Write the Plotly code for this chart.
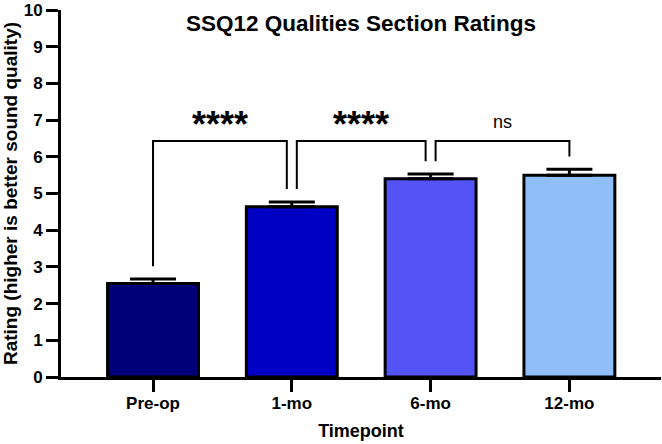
import plotly.graph_objects as go

categories = ["Pre-op", "1-mo", "6-mo", "12-mo"]
means = [2.55, 4.64, 5.40, 5.50]
sems = [0.12, 0.13, 0.13, 0.16]
colors = ["#000078", "#0000C4", "#5353F6", "#8FBEF8"]
y_ticks = list(range(0, 11))

# significance comparisons: (left idx, right idx, label)
comparisons = [(0, 1, "****"), (1, 2, "****"), (2, 3, "ns")]
bracket_y = 6.43
leg_gap = 0.35
leg_offset = 0.036

FONT = "Liberation Sans, Arial, sans-serif"

fig = go.Figure()
fig.add_trace(go.Bar(
    x=list(range(len(categories))), y=means,
    marker=dict(color=colors, line=dict(color="black", width=3)),
    width=0.655,
    error_y=dict(type="data", array=sems, arrayminus=[0]*len(sems), symmetric=False,
                 color="black", thickness=3, width=23),
))

annotations = []
for k, (i, j, lab) in enumerate(comparisons):
    xi = i + (leg_offset if k > 0 else 0)
    xj = j - (leg_offset if j < len(categories) - 1 else 0)
    yi = means[i] + sems[i] + leg_gap
    yj = means[j] + sems[j] + leg_gap
    fig.add_trace(go.Scatter(
        x=[xi, xi, xj, xj], y=[yi, bracket_y, bracket_y, yj],
        mode="lines", line=dict(color="black", width=2), hoverinfo="skip",
    ))
    is_star = "*" in lab
    annotations.append(dict(
        x=(xi + xj) / 2, y=bracket_y, xref="x", yref="y",
        text=f"<b>{lab}</b>" if is_star else lab,
        showarrow=False, yanchor="bottom",
        yshift=-6 if is_star else 7,
        font=dict(family=FONT, size=36 if is_star else 18, color="black"),
    ))

annotations.append(dict(
    x=(361 - 61) / 600, y=(377 - 21) / 370, xref="paper", yref="paper",
    text="<b>SSQ12 Qualities Section Ratings</b>", yanchor="middle",
    showarrow=False, font=dict(family=FONT, size=22.5, color="black"),
))

fig.update_layout(
    width=662, height=444,
    margin=dict(l=61, r=1, t=7, b=67),
    plot_bgcolor="white", paper_bgcolor="white",
    showlegend=False,
    font=dict(family=FONT, color="black"),
    annotations=annotations,
)

fig.update_xaxes(
    range=[-0.663, 3.66],
    tickmode="array", tickvals=list(range(len(categories))),
    ticktext=[f"<b>{c}</b>" for c in categories],
    showline=True, linecolor="black", linewidth=3,
    ticks="outside", ticklen=12, tickwidth=3, tickcolor="black",
    ticklabelstandoff=-3,
    tickfont=dict(family=FONT, size=17, color="black"),
    title=dict(text="<b>Timepoint</b>", font=dict(family=FONT, size=18, color="black"), standoff=12),
    showgrid=False, zeroline=False,
)
fig.update_yaxes(
    range=[0, 10.001],
    tickmode="array", tickvals=y_ticks, ticktext=[f"<b>{t}</b>" for t in y_ticks],
    showline=True, linecolor="black", linewidth=3,
    ticks="outside", ticklen=12, tickwidth=3, tickcolor="black",
    ticklabeloverflow="allow",
    tickfont=dict(family=FONT, size=17, color="black"),
    title=dict(text="<b>Rating (higher is better sound quality)</b>",
               font=dict(family=FONT, size=19, color="black"), standoff=4),
    showgrid=False, zeroline=False,
)

fig.write_html("out.html")
